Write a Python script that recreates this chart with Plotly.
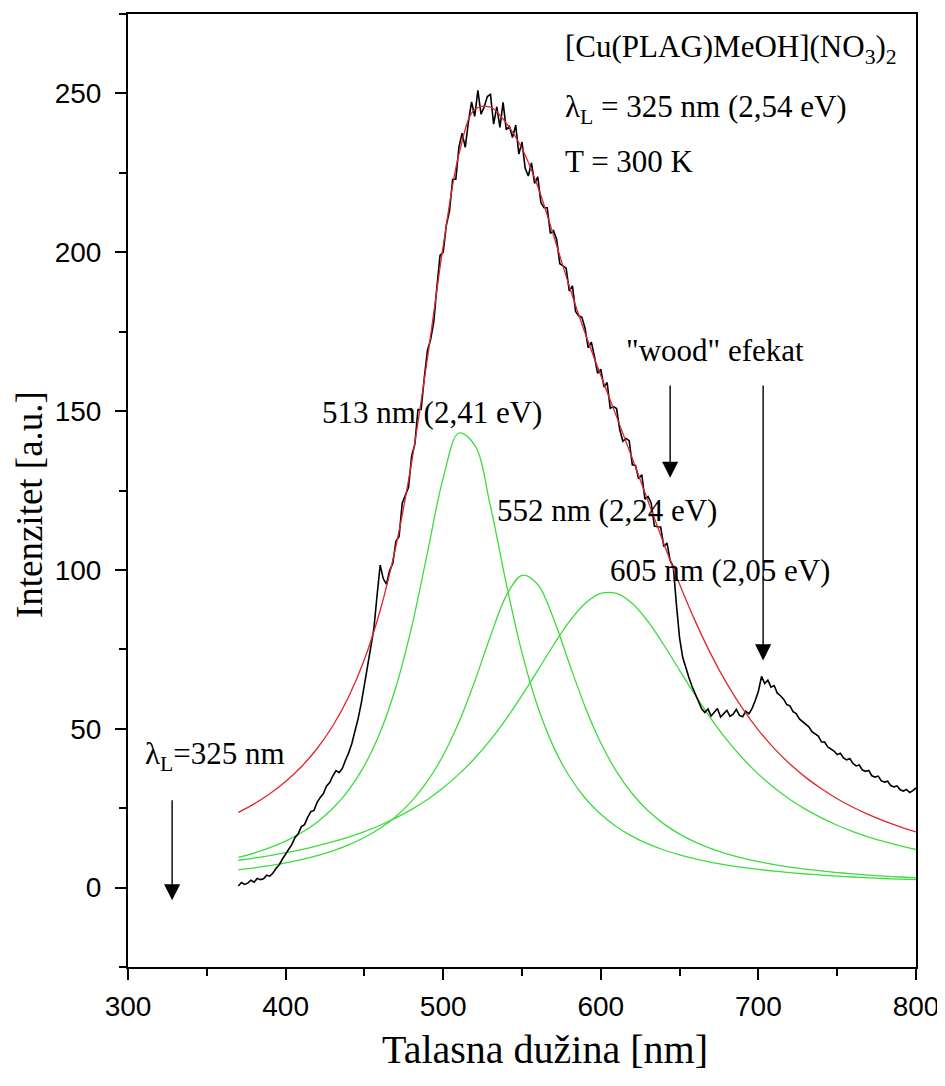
import plotly.graph_objects as go

# ---- data ----
fit_x = [370, 380, 390, 400, 410, 420, 430, 440, 450, 460, 470, 480, 490, 500, 510,
         520, 530, 540, 550, 560, 570, 580, 590, 600, 610, 620, 630, 640, 650, 660,
         670, 680, 690, 700, 710, 720, 730, 740, 750, 760, 770, 780, 790, 800]

peak_513 = [9.50, 10.87, 12.55, 14.63, 17.25, 20.60, 24.95, 30.70, 38.41, 48.90, 63.15,
            82.10, 105.4, 128.9, 143.1, 139.3, 120.0, 95.7, 73.9, 56.9, 44.3, 35.05, 28.20,
            23.07, 19.16, 16.13, 13.74, 11.83, 10.29, 9.02, 7.97, 7.09, 6.34, 5.71, 5.17,
            4.69, 4.28, 3.93, 3.61, 3.33, 3.08, 2.86, 2.66, 2.48]

peak_552 = [5.56, 6.18, 6.91, 7.78, 8.81, 10.05, 11.57, 13.43, 15.75, 18.68, 22.41, 27.23,
            33.49, 41.64, 52.09, 64.93, 79.15, 91.82, 98.3, 95.42, 84.65, 70.56, 56.96,
            45.53, 36.50, 29.53, 24.19, 20.06, 16.84, 14.30, 12.26, 10.62, 9.28, 8.17, 7.24,
            6.46, 5.79, 5.23, 4.74, 4.31, 3.94, 3.61, 3.33, 3.07]

peak_605 = [8.60, 9.30, 10.09, 10.98, 11.98, 13.13, 14.43, 15.92, 17.64, 19.63, 21.93, 24.62,
            27.75, 31.42, 35.71, 40.72, 46.5, 53.11, 60.48, 68.38, 76.37, 83.70, 89.42,
            92.59, 92.59, 89.42, 83.70, 76.37, 68.38, 60.48, 53.11, 46.5, 40.72, 35.71,
            31.42, 27.75, 24.62, 21.93, 19.63, 17.64, 15.92, 14.43, 13.13, 11.98]

fit_sum = [23.66, 26.35, 29.55, 33.39, 38.04, 43.78, 50.95, 60.05, 71.80, 87.21, 107.49,
           133.95, 166.64, 201.96, 230.9, 244.95, 245.65, 240.63, 232.68, 220.7, 205.32,
           189.31, 174.58, 161.19, 148.25, 135.08, 121.63, 108.26, 95.51, 83.8, 73.34,
           64.21, 56.34, 49.59, 43.83, 38.9, 34.69, 31.09, 27.98, 25.28, 22.94, 20.9,
           19.12, 17.53]

meas_x = list(range(370, 801, 2))
meas_y = [
    0.5, 1.6, 1.0, 1.4, 2.3, 1.7, 2.9, 2.5, 2.8, 3.9,
    3.6, 4.6, 6.1, 7.2, 9.0, 10.6, 12.3, 13.6, 15.8, 16.9,
    19.2, 19.8, 22.1, 23.9, 24.3, 26.8, 28.4, 29.6, 32.0, 33.1,
    35.2, 36.8, 36.2, 37.5, 40.1, 42.4, 45.3, 48.9, 53.2, 58.0,
    64.1, 70.2, 76.3, 81.4, 91.8, 101.5, 97.2, 95.5, 99.8, 102.0,
    109.0, 110.5, 121.0, 123.5, 126.0, 136.0, 139.5, 150.5, 150.5, 160.5,
    169.1, 172.5, 178.0, 189.0, 199.0, 200.0, 208.5, 213.0, 223.0, 223.0,
    233.2, 237.5, 233.0, 241.0, 247.3, 242.8, 251.0, 243.5, 245.7, 249.0,
    249.7, 240.3, 245.8, 239.3, 247.2, 238.6, 239.6, 236.1, 240.0, 230.9,
    234.7, 226.5, 224.0, 228.1, 221.7, 223.7, 215.6, 214.0, 214.0, 205.9,
    206.8, 204.0, 196.4, 195.7, 195.0, 187.8, 189.4, 181.4, 180.0, 179.5,
    176.1, 169.9, 171.7, 167.1, 161.9, 163.2, 157.6, 159.0, 150.9, 151.4,
    150.8, 144.2, 140.5, 141.4, 140.7, 133.1, 132.9, 128.7, 130.0, 122.3,
    123.1, 121.0, 113.8, 113.6, 113.5, 107.3, 108.5, 103.0, 101.0, 89.0,
    78.5, 72.4, 68.9, 66.0, 63.2, 61.0, 58.4, 56.3, 55.1, 56.2,
    54.0, 55.3, 56.4, 53.7, 54.9, 55.8, 53.9, 54.6, 56.1, 54.2,
    53.8, 55.5, 54.7, 56.4, 58.9, 61.8, 66.5, 64.2, 65.3, 63.1,
    63.6, 61.2, 60.4, 59.3, 57.6, 57.2, 55.4, 54.8, 53.1, 52.2,
    51.3, 50.6, 49.1, 48.3, 47.7, 45.9, 45.8, 44.3, 43.6, 43.0,
    41.9, 42.3, 40.8, 40.2, 40.6, 39.1, 38.3, 38.6, 37.0, 36.6,
    36.9, 35.2, 34.8, 35.1, 33.6, 33.2, 33.5, 32.1, 31.7, 32.0,
    30.8, 30.4, 30.9, 29.9, 30.5, 31.4,
]

x_ticks = [300, 400, 500, 600, 700, 800]
y_ticks = [0, 50, 100, 150, 200, 250]

GREEN = "#3ddc3d"
RED = "#e0262a"
SERIF = "Liberation Serif, Times New Roman, serif"
SANS = "Liberation Sans, Arial, sans-serif"

fig = go.Figure()
for comp in (peak_513, peak_552, peak_605):
    fig.add_trace(go.Scatter(x=fit_x, y=comp, mode="lines", line=dict(color=GREEN, width=1.3, shape="spline"),
                             showlegend=False, hoverinfo="skip"))
fig.add_trace(go.Scatter(x=meas_x, y=meas_y, mode="lines", line=dict(color="black", width=1.6),
                         showlegend=False))
fig.add_trace(go.Scatter(x=fit_x, y=fit_sum, mode="lines", line=dict(color=RED, width=1.3, shape="spline"),
                         showlegend=False))

axis_common = dict(showgrid=False, zeroline=False, showline=True, linecolor="black", linewidth=2,
                   mirror=True, ticks="outside", tickcolor="black", tickwidth=2, ticklen=11,
                   automargin=False,
                   tickfont=dict(family=SANS, size=28, color="black"))

fig.update_xaxes(range=[300, 800], tickvals=x_ticks, ticktext=[str(v) for v in x_ticks],
                 minor=dict(dtick=50, tick0=300, ticks="outside", ticklen=7, tickwidth=2, tickcolor="black"),
                 ticklabelstandoff=2, **axis_common)
fig.update_yaxes(range=[-25, 275], tickvals=y_ticks, ticktext=[str(v) for v in y_ticks],
                 minor=dict(dtick=25, tick0=0, ticks="outside", ticklen=7, tickwidth=2, tickcolor="black"),
                 ticklabelstandoff=8, **axis_common)

ann_font = dict(family=SERIF, size=31, color="black")
annotations = [
    dict(text="Talasna dužina [nm]", xref="paper", yref="paper", x=0.529, y=-0.087,
         showarrow=False, font=dict(family=SERIF, size=40, color="black"), xanchor="center", yanchor="middle"),
    dict(text="Intenzitet [a.u.]", xref="paper", yref="paper", x=-0.124, y=0.485, textangle=-90,
         showarrow=False, font=dict(family=SERIF, size=37, color="black"), xanchor="center", yanchor="middle"),
    dict(text="[Cu(PLAG)MeOH](NO<sub>3</sub>)<sub>2</sub>", x=576, y=264, xanchor="left", yanchor="middle",
         showarrow=False, font=ann_font),
    dict(text="λ<sub>L</sub> = 325 nm (2,54 eV)", x=576, y=245, xanchor="left", yanchor="middle",
         showarrow=False, font=ann_font),
    dict(text="T = 300 K", x=576, y=228.5, xanchor="left", yanchor="middle",
         showarrow=False, font=ann_font),
    dict(text="513 nm (2,41 eV)", x=493, y=149.5, xanchor="center", yanchor="middle",
         showarrow=False, font=ann_font),
    dict(text="552 nm (2,24 eV)", x=604, y=118.6, xanchor="center", yanchor="middle",
         showarrow=False, font=ann_font),
    dict(text="605 nm (2,05 eV)", x=675.5, y=99.7, xanchor="center", yanchor="middle",
         showarrow=False, font=ann_font),
    dict(text="\"wood\" efekat", x=672.5, y=169, xanchor="center", yanchor="middle",
         showarrow=False, font=ann_font),
    dict(text="λ<sub>L</sub>=325 nm", x=355, y=41.5, xanchor="center", yanchor="middle",
         showarrow=False, font=ann_font),
]
arrow_style = dict(text="", showarrow=True, arrowhead=2, arrowsize=2.3, arrowwidth=1.4,
                   arrowcolor="black", axref="x", ayref="y", standoff=0)
annotations += [
    dict(x=328, y=-4, ax=328, ay=28, **arrow_style),
    dict(x=644, y=129, ax=644, ay=158.5, **arrow_style),
    dict(x=703, y=71.5, ax=703, ay=158.5, **arrow_style),
]

# the page body has an 8px default margin, so the figure is sized to fit the window
fig.update_layout(width=937, height=1078, margin=dict(l=120, r=29, t=6, b=119),
                  plot_bgcolor="white", paper_bgcolor="white", annotations=annotations,
                  showlegend=False)

fig.write_html("out.html")
